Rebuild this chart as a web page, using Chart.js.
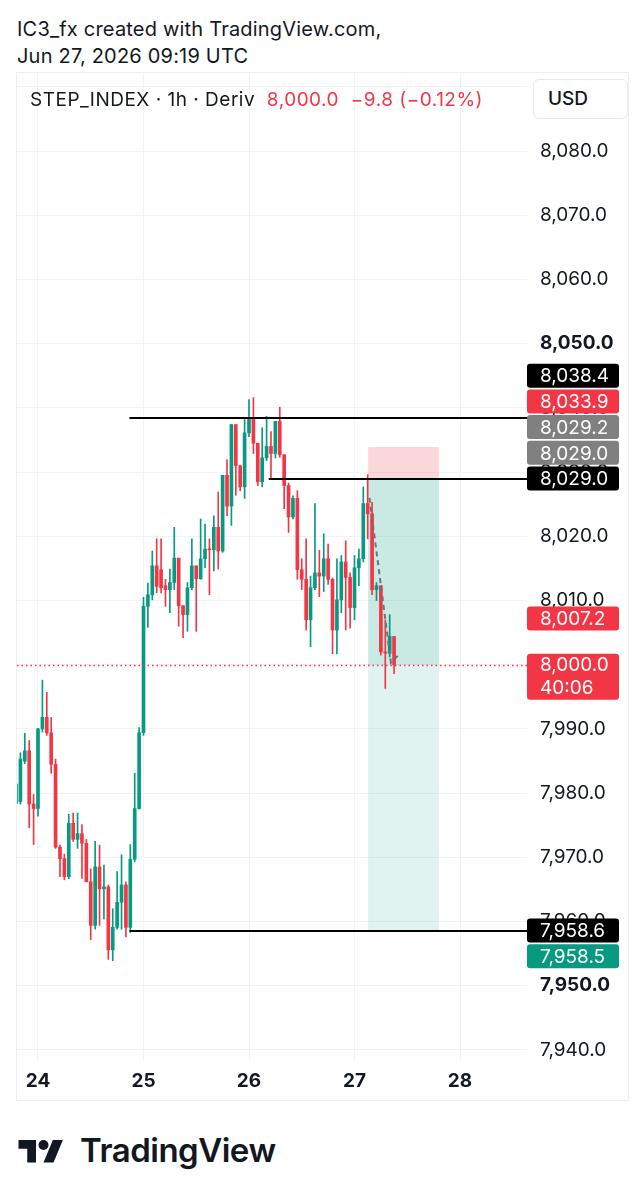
<!DOCTYPE html>
<html>
<head>
<meta charset="utf-8">
<script src="https://cdn.jsdelivr.net/npm/chart.js@4.4.1/dist/chart.umd.min.js"></script>
<style>
    body { margin: 0; background: #ffffff; width: 643px; height: 1199px; overflow: hidden; font-family: Inter, "Noto Sans", sans-serif; color: #131722; }
    #title { position: absolute; left: 17px; top: 16px; font-size: 20px; line-height: 27px; letter-spacing: 0.2px; }
    #panel { position: absolute; left: 16px; top: 72px; width: 613px; height: 1029px; border: 1px solid #eceef2; box-sizing: border-box; }
    #chartBox { position: absolute; left: 17px; top: 72px; width: 612px; height: 1029px; }
    #legend { position: absolute; left: 30px; top: 88px; font-size: 19px; line-height: 24px; white-space: pre; letter-spacing: 0.5px; }
    #legend .chg { color: #f23645; }
    #usd { position: absolute; left: 533px; top: 79px; width: 95px; height: 40px; box-sizing: border-box; border: 1px solid #e6e8ee; border-radius: 6px; background: #fff; font-size: 19px; line-height: 38px; padding-left: 14px; font-weight: 500; }
    #logo { position: absolute; left: 18px; top: 1130px; height: 40px; display: flex; align-items: center; }
    #logo span { font-size: 33px; font-weight: 600; letter-spacing: -0.5px; margin-left: 16px; color: #131722; }
</style>
</head>
<body>
<div id="title">IC3_fx created with TradingView.com,<br>Jun 27, 2026 09:19 UTC</div>
<div id="panel"></div>
<div id="chartBox"><canvas id="candles" width="612" height="1029"></canvas></div>
<div id="legend">STEP_INDEX · 1h · Deriv  <span class="chg">8,000.0  −9.8 (−0.12%)</span></div>
<div id="usd">USD</div>
<div id="logo">
    <svg width="46" height="30" viewBox="0 0 36 24"><path d="M14 22H7V11H0V4h14v18zM28 22h-8l7.5-18h8L28 22z" fill="#131722"/><circle cx="20" cy="8" r="4" fill="#131722"/></svg>
    <span>TradingView</span>
</div>

<script>
// hourly candles, first one is 23 Jun 19:00 (hour -5 counted from 24 Jun 00:00)
const firstHour = -5;
const opens  = [7978.4, 7978.7, 7985.0, 7986.6, 7978.3, 7977.6, 7990.0, 7991.8, 7989.4, 7984.5,
                7971.6, 7969.8, 7967.0, 7975.3, 7972.8, 7973.7, 7972.2, 7966.2, 7959.4, 7968.5,
                7965.1, 7965.4, 7955.6, 7959.1, 7963.0, 7965.7, 7959.1, 7969.7, 7977.6, 7989.4,
                8009.1, 8010.9, 8015.4, 8014.8, 8012.3, 8011.7, 8012.8, 8016.6, 8009.2, 8007.8,
                8012.0, 8015.4, 8013.4, 8016.5, 8018.0, 8017.9, 8021.4, 8017.7, 8029.5, 8024.7,
                8037.4, 8031.0, 8027.7, 8036.1, 8038.2, 8034.5, 8028.5, 8032.2, 8034.0, 8032.9,
                8037.9, 8032.7, 8027.9, 8023.0, 8025.9, 8014.8, 8013.3, 8007.0, 8012.0, 8014.3,
                8013.8, 8016.5, 8013.3, 8005.4, 8010.1, 8016.0, 8013.6, 8008.9, 8015.1, 8016.5,
                8025.1, 8023.5, 8011.7, 8012.3, 8002.0, 8001.8, 8004.4];
const highs  = [7981.6, 7986.3, 7989.3, 7988.2, 7979.8, 7990.1, 7997.6, 7995.7, 7991.8, 7985.3,
                7971.9, 7970.5, 7976.7, 7976.9, 7976.9, 7975.1, 7972.8, 7968.2, 7972.5, 7971.9,
                7968.8, 7965.7, 7962.0, 7967.8, 7970.4, 7966.2, 7972.0, 7983.1, 7990.2, 8010.5,
                8012.7, 8017.7, 8019.6, 8019.6, 8013.3, 8014.9, 8021.4, 8016.6, 8009.2, 8012.8,
                8019.6, 8015.4, 8022.7, 8021.9, 8019.6, 8023.2, 8026.9, 8029.5, 8031.9, 8037.4,
                8037.4, 8031.0, 8038.2, 8041.3, 8041.6, 8034.5, 8036.9, 8038.7, 8036.3, 8037.9,
                8040.1, 8032.7, 8028.3, 8026.3, 8027.1, 8016.5, 8019.6, 8013.8, 8025.1, 8017.8,
                8020.4, 8018.8, 8013.5, 8016.5, 8017.0, 8019.3, 8014.3, 8017.0, 8018.0, 8027.7,
                8029.6, 8025.3, 8012.8, 8012.3, 8007.0, 8007.8, 8004.4];
const lows   = [7972.9, 7978.3, 7984.6, 7974.6, 7972.0, 7976.4, 7989.5, 7989.0, 7983.1, 7971.4,
                7967.0, 7966.5, 7966.7, 7972.5, 7971.4, 7966.7, 7966.2, 7957.2, 7958.8, 7959.4,
                7960.4, 7954.1, 7953.9, 7958.8, 7958.8, 7957.6, 7958.3, 7969.3, 7977.5, 7989.0,
                8005.8, 8010.1, 8011.2, 8011.2, 8009.1, 8008.1, 8011.7, 8006.0, 8004.2, 8005.2,
                8011.7, 8005.2, 8013.3, 8015.1, 8010.9, 8014.6, 8014.9, 8017.5, 8023.2, 8021.7,
                8026.4, 8027.1, 8025.9, 8035.5, 8032.9, 8027.9, 8027.7, 8031.8, 8029.0, 8032.2,
                8032.3, 8024.3, 8020.6, 8022.7, 8013.3, 8011.7, 8005.4, 8002.8, 8011.7, 8010.6,
                8011.4, 8012.5, 8001.7, 8001.7, 8008.1, 8005.4, 8005.7, 8007.0, 8012.3, 8016.0,
                8019.6, 8010.9, 8010.0, 8001.5, 7996.3, 8001.2, 7998.6];
const closes = [7981.4, 7985.3, 7986.6, 7978.3, 7977.6, 7990.0, 7991.8, 7989.4, 7984.5, 7971.6,
                7969.8, 7967.0, 7975.3, 7972.8, 7973.7, 7972.2, 7966.2, 7959.4, 7968.5, 7965.1,
                7965.4, 7955.6, 7959.1, 7963.0, 7965.7, 7959.1, 7969.7, 7977.6, 7989.4, 8009.1,
                8010.9, 8015.4, 8012.2, 8012.0, 8011.7, 8012.8, 8016.6, 8009.2, 8007.8, 8012.0,
                8015.4, 8013.4, 8016.5, 8018.0, 8017.9, 8021.4, 8017.7, 8029.5, 8024.7, 8037.4,
                8031.0, 8027.7, 8036.1, 8038.2, 8034.5, 8028.5, 8032.2, 8034.0, 8032.9, 8037.9,
                8032.7, 8027.9, 8023.0, 8025.9, 8014.8, 8013.3, 8007.0, 8012.0, 8014.3, 8013.8,
                8016.5, 8013.3, 8005.4, 8010.1, 8016.0, 8013.6, 8008.9, 8015.1, 8016.5, 8025.1,
                8023.5, 8011.7, 8012.3, 8002.0, 8001.8, 8004.4, 8000.0];

// axes
const dayTicks = [0, 24, 48, 72, 96];          // midnights of 24..28 Jun
const dayLabels = ['24', '25', '26', '27', '28'];
const priceTicks = [7940, 7950, 7960, 7970, 7980, 7990, 8000, 8010, 8020, 8030, 8040, 8050, 8060, 8070, 8080, 8090];
const boldPrices = [7950, 8050];

// drawings
const rayLevels = [8038.4, 8029.0, 7958.6];
const rayStart  = [20.8, 52.5, 20.8];
const lastPrice = 8000.0;
const countdown = '40:06';
const posEntry = 8029.0, posStop = 8033.9, posTarget = 7958.5;
const posFrom = 75.1, posTo = 91.2;
const pathHours  = [75.4, 80.3, 82.0];
const pathPrices = [8026.0, 8000.3, 8001.5];
const tagValues = [8038.4, 8033.9, 8029.2, 8029.0, 8029.0, 8007.2, 7958.6, 7958.5];

// tag layout (anchor level, stacking slot, colour)
const tagAnchor = [8029.0, 8029.0, 8029.0, 8029.0, 8029.0, 8007.2, 7958.6, 7958.6];
const tagSlot   = [-4, -3, -2, -1, 0, 0, 0, 1];
const tagColor  = ['#000000', '#f23645', '#808080', '#808080', '#000000', '#f23645', '#000000', '#089981'];

const UP = '#089981', DOWN = '#f23645';
const FONT = 'Inter, "Noto Sans", sans-serif';

const hours = opens.map((o, i) => firstHour + i);
const candleColors = opens.map((o, i) => closes[i] >= o ? UP : DOWN);
const fmt = v => v.toLocaleString('en-US', { minimumFractionDigits: 1, maximumFractionDigits: 1 });

function roundRect(ctx, x, y, w, h, r) {
    ctx.beginPath();
    ctx.moveTo(x + r, y);
    ctx.arcTo(x + w, y, x + w, y + h, r);
    ctx.arcTo(x + w, y + h, x, y + h, r);
    ctx.arcTo(x, y + h, x, y, r);
    ctx.arcTo(x, y, x + w, y, r);
    ctx.closePath();
}

const drawings = {
    id: 'drawings',
    beforeDatasetsDraw(chart) {
        const { ctx, scales: { x, y } } = chart;
        const x0 = x.getPixelForValue(posFrom), x1 = x.getPixelForValue(posTo);
        ctx.save();
        ctx.fillStyle = 'rgba(242, 54, 69, 0.2)';
        ctx.fillRect(x0, y.getPixelForValue(posStop), x1 - x0, y.getPixelForValue(posEntry) - y.getPixelForValue(posStop));
        ctx.fillStyle = 'rgba(8, 153, 129, 0.22)';
        ctx.fillRect(x0, y.getPixelForValue(posEntry), x1 - x0, y.getPixelForValue(lastPrice) - y.getPixelForValue(posEntry));
        ctx.fillStyle = 'rgba(8, 153, 129, 0.12)';
        ctx.fillRect(x0, y.getPixelForValue(lastPrice), x1 - x0, y.getPixelForValue(posTarget) - y.getPixelForValue(lastPrice));
        ctx.restore();
    },
    afterDatasetsDraw(chart) {
        const { ctx, chartArea, scales: { x, y } } = chart;
        ctx.save();
        // horizontal rays
        ctx.strokeStyle = '#000000';
        ctx.lineWidth = 2;
        rayLevels.forEach((lvl, i) => {
            const py = Math.round(y.getPixelForValue(lvl));
            ctx.beginPath();
            ctx.moveTo(x.getPixelForValue(rayStart[i]), py);
            ctx.lineTo(chartArea.right, py);
            ctx.stroke();
        });
        // last price dotted line
        const lp = Math.round(y.getPixelForValue(lastPrice)) + 0.5;
        ctx.strokeStyle = DOWN;
        ctx.lineWidth = 1.5;
        ctx.setLineDash([1.5, 3]);
        ctx.beginPath();
        ctx.moveTo(chartArea.left, lp);
        ctx.lineTo(chartArea.right, lp);
        ctx.stroke();
        ctx.restore();
    },
    afterDraw(chart) {
        const { ctx, chartArea, scales: { y } } = chart;
        const bx = chartArea.right, bw = 92, bh = 24, step = 25.7;
        ctx.save();
        ctx.font = '19px ' + FONT;
        ctx.textBaseline = 'middle';
        ctx.textAlign = 'left';
        tagValues.forEach((v, i) => {
            const cy = y.getPixelForValue(tagAnchor[i]) + tagSlot[i] * step;
            ctx.fillStyle = tagColor[i];
            roundRect(ctx, bx, cy - bh / 2, bw, bh, 3);
            ctx.fill();
            ctx.fillStyle = '#ffffff';
            ctx.fillText(fmt(v), bx + 13, cy + 1);
        });
        // last price tag with countdown
        const cy = y.getPixelForValue(lastPrice);
        ctx.fillStyle = DOWN;
        roundRect(ctx, bx, cy - 11, bw, 46, 3);
        ctx.fill();
        ctx.fillStyle = '#ffffff';
        ctx.fillText(fmt(lastPrice), bx + 13, cy + 1);
        ctx.fillText(countdown, bx + 13, cy + 24);
        ctx.restore();
    }
};

new Chart(document.getElementById('candles'), {
    type: 'bar',
    data: {
        datasets: [{
            label: 'wicks',
            data: hours.map((h, i) => ({ x: h, y: [lows[i], highs[i]] })),
            backgroundColor: candleColors,
            barThickness: 1,
            grouped: false,
            order: 2
        }, {
            label: 'bodies',
            data: hours.map((h, i) => ({ x: h, y: [opens[i], closes[i]] })),
            backgroundColor: candleColors,
            barThickness: 3,
            minBarLength: 1,
            grouped: false,
            order: 1
        }, {
            type: 'line',
            label: 'path',
            data: pathHours.map((h, i) => ({ x: h, y: pathPrices[i] })),
            borderColor: '#6f727c',
            borderWidth: 2,
            borderDash: [5, 4],
            pointRadius: 0,
            order: 0
        }]
    },
    options: {
        responsive: false,
        animation: false,
        layout: { padding: 0 },
        plugins: { legend: { display: false }, tooltip: { enabled: false } },
        scales: {
            x: {
                type: 'linear',
                offset: false,
                min: -4.777,
                max: 111.24,
                afterFit: s => { s.height = 41; s.paddingLeft = 0; s.paddingRight = 0; },
                afterBuildTicks: s => { s.ticks = dayTicks.map(v => ({ value: v })); },
                grid: { color: '#f1f2f5', drawTicks: false, offset: false },
                border: { display: false },
                ticks: {
                    padding: 10,
                    autoSkip: false,
                    maxRotation: 0,
                    color: '#131722',
                    font: { family: FONT, size: 19, weight: 'bold' },
                    callback: v => dayLabels[dayTicks.indexOf(v)]
                }
            },
            y: {
                position: 'right',
                min: 7938.44,
                max: 8092.31,
                afterFit: s => { s.width = 102; s.paddingTop = 0; s.paddingBottom = 0; },
                afterBuildTicks: s => { s.ticks = priceTicks.map(v => ({ value: v })); },
                grid: { color: '#f1f2f5', drawTicks: false },
                border: { display: false },
                ticks: {
                    padding: 13,
                    autoSkip: false,
                    color: '#131722',
                    font: c => ({ family: FONT, size: 19, weight: (c.tick && boldPrices.includes(c.tick.value)) ? 'bold' : 'normal' }),
                    callback: v => fmt(v)
                }
            }
        }
    },
    plugins: [drawings]
});
</script>
</body>
</html>
